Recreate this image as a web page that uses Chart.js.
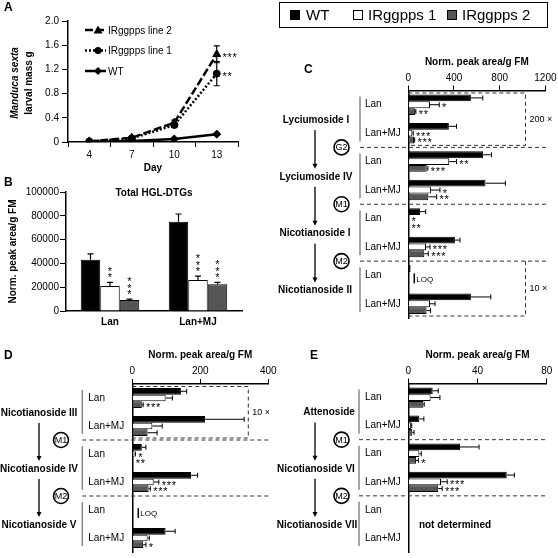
<!DOCTYPE html>
<html>
<head>
<meta charset="utf-8">
<title>IRggpps HGL-DTGs</title>
<script src="https://cdn.jsdelivr.net/npm/chart.js@4.4.1/dist/chart.umd.min.js"></script>
<style>
  html, body { margin: 0; padding: 0; background: #fff; }
  body { position: relative; width: 558px; height: 558px; overflow: hidden; font-family: "Liberation Sans", Arial, sans-serif; }
  canvas { position: absolute; left: 0; top: 0; }
  .panel { position: absolute; font-weight: bold; font-size: 12px; line-height: 12px; }
  #key { position: absolute; left: 279px; top: 2px; width: 267px; height: 24px; border: 1px solid #000; font-size: 15px; }
  #key span { position: absolute; top: 3px; line-height: 18px; }
  #key i { position: absolute; top: 7px; width: 10px; height: 10px; border: 1px solid #000; box-sizing: border-box; }
</style>
</head>
<body>
<canvas id="chartA" width="558" height="558"></canvas>
<canvas id="chartB" width="558" height="558"></canvas>
<canvas id="chartC" width="558" height="558"></canvas>
<canvas id="chartD" width="558" height="558"></canvas>
<canvas id="chartE" width="558" height="558"></canvas>

<div class="panel" style="left:4px;top:1px">A</div>
<div class="panel" style="left:4px;top:176px">B</div>
<div class="panel" style="left:304px;top:63px">C</div>
<div class="panel" style="left:4px;top:349px">D</div>
<div class="panel" style="left:310px;top:349px">E</div>

<div id="key">
  <i style="left:10px;background:#000"></i><span style="left:26px">WT</span>
  <i style="left:73px;background:#fff"></i><span style="left:88px">IRggpps 1</span>
  <i style="left:167px;background:#555"></i><span style="left:182px">IRggpps 2</span>
</div>

<script>
// ---- A: larval mass ----
const days = ['4', '7', '10', '13'];
const massLine2 = [0.01, 0.07, 0.32, 1.45];
const massLine2Err = [0.005, 0.01, 0.04, 0.14];
const massLine1 = [0.01, 0.06, 0.28, 1.13];
const massLine1Err = [0.005, 0.01, 0.04, 0.2];
const massWT = [0.005, 0.015, 0.05, 0.13];
const massWTErr = [0, 0, 0.01, 0.015];
const massStars2 = ['', '', '', '***'];
const massStars1 = ['', '', '', '**'];

// ---- B: total HGL-DTGs ----
const hglCats = ['Lan', 'Lan+MJ'];
const hglWT = [43000, 75000];
const hglWTErr = [5000, 6500];
const hglIR1 = [21000, 26000];
const hglIR1Err = [3000, 3300];
const hglIR2 = [9200, 22500];
const hglIR2Err = [700, 1600];
const hglStars1 = ['**', '***'];
const hglStars2 = ['***', '***'];

// ---- C ----
const cCats = ['Lan', 'Lan+MJ', 'Lan', 'Lan+MJ', 'Lan', 'Lan+MJ', 'Lan', 'Lan+MJ'];
const cCompounds = ['Lyciumoside I', 'Lyciumoside IV', 'Nicotianoside I', 'Nicotianoside II'];
const cSteps = ['G2', 'M1', 'M2'];
const cWT = [548, 355, 655, 676, 102, 408, 20, 548];
const cWTErr = [104, 67, 73, 174, 50, 44, 0, 174];
const cIR1 = [190, 35, 358, 198, 4, 155, null, 190];
const cIR1Err = [81, 8, 64, 79, 0, 35, 0, 44];
const cIR2 = [58, 50, 161, 175, 3, 140, null, 160];
const cIR2Err = [8, 6, 10, 73, 0, 35, 0, 35];
const cStars1 = ['*', '***', '**', '*', '*', '***', '', ''];
const cStars2 = ['**', '***', '***', '**', '**', '***', '', ''];

// ---- D ----
const dCats = ['Lan', 'Lan+MJ', 'Lan', 'Lan+MJ', 'Lan', 'Lan+MJ'];
const dCompounds = ['Nicotianoside III', 'Nicotianoside IV', 'Nicotianoside V'];
const dSteps = ['M1', 'M2'];
const dWT = [143, 214, 28, 173, 2, 98];
const dWTErr = [17, 115, 12, 19, 0, 28];
const dIR1 = [98, 59, 6, 63, null, 45];
const dIR1Err = [20, 29, 3, 15, 0, 5];
const dIR2 = [28, 45, 2, 48, null, 32];
const dIR2Err = [4, 28, 0, 5, 0, 8];
const dStars1 = ['', '', '*', '***', '', ''];
const dStars2 = ['***', '', '**', '***', '', '*'];

// ---- E ----
const eCats = ['Lan', 'Lan+MJ', 'Lan', 'Lan+MJ', 'Lan', 'Lan+MJ'];
const eCompounds = ['Attenoside', 'Nicotianoside VI', 'Nicotianoside VII'];
const eSteps = ['M1', 'M2'];
const eWT = [14.1, 6.4, 29.9, 56.9, null, null];
const eWTErr = [3.2, 2.6, 11, 4.4, 0, 0];
const eIR1 = [12.9, 1.5, 6.4, 18.9, null, null];
const eIR1Err = [5.4, 0.5, 1.1, 3.6, 0, 0];
const eIR2 = [8.7, 2.3, 4.5, 17.3, null, null];
const eIR2Err = [0.5, 1, 1.3, 2.3, 0, 0];
const eStars1 = ['', '', '', '***', '', ''];
const eStars2 = ['', '', '*', '***', '', ''];

const BLACK = '#000';
const GRAY = '#555';
const FONT = '"Liberation Sans", Arial, sans-serif';

Chart.defaults.font.family = FONT;
Chart.defaults.font.size = 10;
Chart.defaults.color = BLACK;
Chart.defaults.animation = false;
Chart.defaults.events = [];
Chart.defaults.plugins.legend.display = false;
Chart.defaults.plugins.tooltip.enabled = false;

// plain numbers, no thousands separator
const plain = v => String(v);

// stars drawn one by one so they sit a bit apart
function drawStars(ctx, s, x, y, vertical) {
  ctx.font = '11px ' + FONT;
  ctx.textAlign = 'center';
  ctx.textBaseline = 'alphabetic';
  for (let k = 0; k < s.length; k++) {
    if (vertical) ctx.fillText('*', x, y - k * 6.5 + 6);
    else ctx.fillText('*', x + 2 + k * 5, y + 6.5);
  }
}

function drawMarker(ctx, style, x, y, r) {
  ctx.beginPath();
  if (style === 'triangle') {
    ctx.moveTo(x, y - r); ctx.lineTo(x + r, y + r * 0.8); ctx.lineTo(x - r, y + r * 0.8);
  } else if (style === 'rectRot') {
    ctx.moveTo(x, y - r); ctx.lineTo(x + r, y); ctx.lineTo(x, y + r); ctx.lineTo(x - r, y);
  } else {
    ctx.arc(x, y, r, 0, Math.PI * 2);
  }
  ctx.closePath();
  ctx.fill();
}

// ---------------- A ----------------
const massPlugin = {
  id: 'massExtras',
  afterDatasetsDraw(chart) {
    const {ctx, scales: {x, y}} = chart;
    const errs = [massLine2Err, massLine1Err, massWTErr];
    const stars = [massStars2, massStars1, []];
    ctx.save();
    ctx.strokeStyle = BLACK;
    ctx.fillStyle = BLACK;
    ctx.lineWidth = 1.2;
    chart.data.datasets.forEach((ds, i) => {
      ds.data.forEach((v, j) => {
        const px = x.getPixelForValue(j);
        const e = errs[i][j];
        if (e) {
          const top = y.getPixelForValue(v + e), bot = y.getPixelForValue(v - e);
          ctx.beginPath();
          ctx.moveTo(px, top); ctx.lineTo(px, bot);
          ctx.moveTo(px - 3, top); ctx.lineTo(px + 3, top);
          ctx.moveTo(px - 3, bot); ctx.lineTo(px + 3, bot);
          ctx.stroke();
        }
        if (stars[i][j]) drawStars(ctx, stars[i][j], px + 6, y.getPixelForValue(v), false);
      });
    });

    // legend inside the plot
    const rows = [30, 50.5, 71];
    chart.data.datasets.forEach((ds, i) => {
      const yy = rows[i];
      ctx.lineWidth = 2.5;
      ctx.setLineDash(ds.borderDash || []);
      ctx.beginPath(); ctx.moveTo(85, yy); ctx.lineTo(106, yy); ctx.stroke();
      ctx.setLineDash([]);
      drawMarker(ctx, ds.pointStyle, 98, yy, ds.pointRadius);
      ctx.font = '10px ' + FONT;
      ctx.textAlign = 'left';
      ctx.textBaseline = 'middle';
      ctx.fillText(ds.label, 108, yy + 1);
    });

    // y title, first line italic
    ctx.save();
    ctx.translate(15, 83);
    ctx.rotate(-Math.PI / 2);
    ctx.textAlign = 'center';
    ctx.textBaseline = 'middle';
    ctx.font = 'italic bold 10px ' + FONT;
    ctx.fillText('Manduca sexta', 0, 0);
    ctx.font = 'bold 10px ' + FONT;
    ctx.fillText('larval mass g', 0, 14);
    ctx.restore();
    ctx.restore();
  }
};

new Chart(document.getElementById('chartA'), {
  type: 'line',
  data: {
    labels: days,
    datasets: [
      {label: 'IRggpps line 2', data: massLine2, borderDash: [8, 3], pointStyle: 'triangle', pointRadius: 4.5},
      {label: 'IRggpps line 1', data: massLine1, borderDash: [2, 2], pointStyle: 'circle', pointRadius: 3.5},
      {label: 'WT', data: massWT, pointStyle: 'rectRot', pointRadius: 4}
    ].map(ds => Object.assign(ds, {
      borderColor: BLACK, backgroundColor: BLACK, borderWidth: 2.5,
      pointBackgroundColor: BLACK, pointBorderColor: BLACK, pointBorderWidth: 1
    }))
  },
  options: {
    responsive: false,
    layout: {padding: {left: 0, top: 21, right: 320, bottom: 382}},
    scales: {
      x: {
        offset: true,
        grid: {display: true, offset: true, drawOnChartArea: false, tickLength: 5, color: BLACK},
        border: {color: BLACK, width: 1.5},
        ticks: {padding: 2},
        title: {display: true, text: 'Day', font: {weight: 'bold'}, padding: {top: 0, bottom: 2}},
        afterFit: s => { s.height = 34; }
      },
      y: {
        min: 0, max: 2,
        ticks: {stepSize: 0.4, padding: 3, callback: v => v === 0 ? '0' : v.toFixed(1)},
        grid: {drawOnChartArea: false, tickLength: 6, color: BLACK},
        border: {color: BLACK, width: 1.5},
        afterFit: s => { s.width = 68; }
      }
    }
  },
  plugins: [massPlugin]
});

// ---------------- B ----------------
const hglPlugin = {
  id: 'hglExtras',
  afterDatasetsDraw(chart) {
    const {ctx, scales: {y}, chartArea} = chart;
    const errs = [hglWTErr, hglIR1Err, hglIR2Err];
    const stars = [[], hglStars1, hglStars2];
    ctx.save();
    ctx.strokeStyle = BLACK;
    ctx.fillStyle = BLACK;
    ctx.lineWidth = 1.2;
    chart.data.datasets.forEach((ds, i) => {
      chart.getDatasetMeta(i).data.forEach((bar, j) => {
        const top = y.getPixelForValue(ds.data[j] + errs[i][j]);
        ctx.beginPath();
        ctx.moveTo(bar.x, bar.y); ctx.lineTo(bar.x, top);
        ctx.moveTo(bar.x - 3, top); ctx.lineTo(bar.x + 3, top);
        ctx.stroke();
        if (stars[i][j]) drawStars(ctx, stars[i][j], bar.x, top - 7, true);
      });
    });
    ctx.font = 'bold 10px ' + FONT;
    ctx.textAlign = 'center';
    ctx.textBaseline = 'middle';
    ctx.fillText('Total HGL-DTGs', (chartArea.left + chartArea.right) / 2, 193);
    ctx.restore();
  }
};

new Chart(document.getElementById('chartB'), {
  type: 'bar',
  data: {
    labels: hglCats,
    datasets: [
      {label: 'WT', data: hglWT, backgroundColor: BLACK},
      {label: 'IRggpps 1', data: hglIR1, backgroundColor: '#fff'},
      {label: 'IRggpps 2', data: hglIR2, backgroundColor: GRAY}
    ]
  },
  options: {
    responsive: false,
    datasets: {bar: {borderColor: BLACK, borderWidth: 1, categoryPercentage: 0.665, barPercentage: 1}},
    layout: {padding: {left: 0, top: 192, right: 316, bottom: 227}},
    scales: {
      x: {
        grid: {display: true, drawOnChartArea: false, drawTicks: false},
        border: {color: BLACK, width: 1.5},
        ticks: {padding: 5, font: {weight: 'bold'}},
        afterFit: s => { s.height = 20; }
      },
      y: {
        min: 0, max: 100000,
        ticks: {stepSize: 20000, padding: 1, callback: plain},
        grid: {drawOnChartArea: false, tickLength: 6, color: BLACK},
        border: {color: BLACK, width: 1.5},
        title: {display: true, text: 'Norm. peak area/g FM', font: {weight: 'bold'}, padding: {top: 7, bottom: 0}},
        afterFit: s => { s.width = 66; }
      }
    }
  },
  plugins: [hglPlugin]
});

// ---------------- C, D, E ----------------
function stepsPlugin(p) {
  return {
    id: 'steps' + p.id,
    afterDatasetsDraw(chart) {
      const {ctx, scales: {x, y}, chartArea} = chart;
      const band = (y.getPixelForValue(1) - y.getPixelForValue(0));
      const edge = k => y.getPixelForValue(k) - band / 2;
      ctx.save();
      ctx.fillStyle = BLACK;
      ctx.strokeStyle = BLACK;

      // error bars + stars
      ctx.lineWidth = 1;
      chart.data.datasets.forEach((ds, i) => {
        chart.getDatasetMeta(i).data.forEach((bar, j) => {
          const v = ds.data[j];
          if (v == null) return;
          const e = ds.err[j] || 0;
          const end = x.getPixelForValue(v + e);
          if (e) {
            ctx.beginPath();
            ctx.moveTo(bar.x, bar.y); ctx.lineTo(end, bar.y);
            ctx.moveTo(end, bar.y - 2.5); ctx.lineTo(end, bar.y + 2.5);
            ctx.stroke();
          }
          const s = ds.stars ? ds.stars[j] : '';
          if (s) drawStars(ctx, s, end + 3, bar.y, false);
        });
      });

      // dashed separators between compounds
      ctx.setLineDash([4, 3]);
      ctx.strokeStyle = '#333';
      p.steps.forEach((st, k) => {
        const sy = edge(2 * k + 2);
        ctx.beginPath(); ctx.moveTo(p.bracketX, sy); ctx.lineTo(p.sepRight, sy); ctx.stroke();
      });

      // dashed scale boxes
      (p.boxes || []).forEach(b => {
        const top = b.top ? edge(b.from) + 2.5 : edge(b.from);
        const bot = edge(b.to + 1) - 2;
        ctx.beginPath();
        if (b.top) { ctx.moveTo(chartArea.left, top); ctx.lineTo(b.right, top); }
        else ctx.moveTo(b.right, top);
        ctx.lineTo(b.right, bot);
        ctx.lineTo(chartArea.left, bot);
        ctx.stroke();
        ctx.font = '9px ' + FONT;
        ctx.textAlign = 'left';
        ctx.textBaseline = 'middle';
        ctx.fillText(b.text, b.right + 4, (top + bot) / 2);
      });
      ctx.setLineDash([]);

      // grey brackets
      ctx.strokeStyle = '#888';
      ctx.lineWidth = 1.5;
      p.compounds.forEach((c, k) => {
        ctx.beginPath();
        ctx.moveTo(p.bracketX, edge(2 * k) + 6);
        ctx.lineTo(p.bracketX, edge(2 * k + 2) - 6);
        ctx.stroke();
      });

      // compound names and arrows
      const nameY = p.compounds.map((c, k) => edge(2 * k + 1) + 1);
      ctx.font = 'bold 10px ' + FONT;
      ctx.textAlign = 'center';
      ctx.textBaseline = 'middle';
      p.compounds.forEach((c, k) => ctx.fillText(c, p.nameX[k], nameY[k]));
      ctx.strokeStyle = BLACK;
      ctx.lineWidth = 1.3;
      for (let k = 0; k < p.compounds.length - 1; k++) {
        const y1 = nameY[k] + 10, y2 = nameY[k + 1] - 8;
        ctx.beginPath(); ctx.moveTo(p.arrowX, y1); ctx.lineTo(p.arrowX, y2 - 4); ctx.stroke();
        ctx.beginPath();
        ctx.moveTo(p.arrowX - 2.5, y2 - 5); ctx.lineTo(p.arrowX + 2.5, y2 - 5); ctx.lineTo(p.arrowX, y2);
        ctx.closePath(); ctx.fill();
      }

      // circled step names
      ctx.lineWidth = 1.6;
      p.steps.forEach((st, k) => {
        const cy = edge(2 * k + 2);
        ctx.beginPath();
        ctx.arc(p.circleX, cy, 7.5, 0, Math.PI * 2);
        ctx.fillStyle = '#fff'; ctx.fill();
        ctx.stroke();
        ctx.fillStyle = BLACK;
        ctx.font = '9px ' + FONT;
        ctx.fillText(st, p.circleX, cy + 0.5);
      });

      // below limit of quantification
      (p.loq || []).forEach(cat => {
        const lx = x.getPixelForValue(0) + 6;
        const ly = y.getPixelForValue(cat) + 3;
        ctx.lineWidth = 1.5;
        ctx.beginPath(); ctx.moveTo(lx, ly - 5); ctx.lineTo(lx, ly + 5); ctx.stroke();
        ctx.font = '8px ' + FONT;
        ctx.textAlign = 'left';
        ctx.fillText('LOQ', lx + 2, ly + 1);
      });

      (p.notes || []).forEach(n => {
        ctx.font = 'bold 10px ' + FONT;
        ctx.textAlign = 'center';
        ctx.fillText(n.text, n.x, nameY[n.compound]);
      });
      ctx.restore();
    }
  };
}

function stepChart(id, p) {
  return new Chart(document.getElementById(id), {
    type: 'bar',
    data: {
      labels: p.cats,
      datasets: [
        {label: 'WT', data: p.wt, err: p.wtErr, backgroundColor: BLACK},
        {label: 'IRggpps 1', data: p.ir1, err: p.ir1Err, stars: p.stars1, backgroundColor: '#fff'},
        {label: 'IRggpps 2', data: p.ir2, err: p.ir2Err, stars: p.stars2, backgroundColor: GRAY}
      ]
    },
    options: {
      responsive: false,
      indexAxis: 'y',
      datasets: {bar: {borderColor: BLACK, borderWidth: 1, categoryPercentage: 0.72, barPercentage: 1}},
      layout: {padding: {left: p.labelX, top: p.titleTop, right: 558 - p.area.right, bottom: 558 - p.area.bottom}},
      scales: {
        x: {
          position: 'top', min: 0, max: p.max,
          ticks: {stepSize: p.step, padding: 1.5, callback: plain},
          grid: {drawOnChartArea: false, tickLength: 5, color: BLACK},
          border: {color: BLACK, width: 1.5},
          title: {display: true, text: 'Norm. peak area/g FM', font: {weight: 'bold'}, padding: {top: 6, bottom: 0}},
          afterFit: s => { s.height = p.area.top - p.titleTop; }
        },
        y: {
          grid: {drawOnChartArea: false, drawTicks: false},
          border: {color: BLACK, width: 1.5},
          ticks: {crossAlign: 'far', padding: 0, autoSkip: false},
          afterFit: s => { s.width = p.area.left - p.labelX; }
        }
      }
    },
    plugins: [stepsPlugin(Object.assign({id}, p))]
  });
}

stepChart('chartC', {
  cats: cCats, compounds: cCompounds, steps: cSteps,
  wt: cWT, wtErr: cWTErr, ir1: cIR1, ir1Err: cIR1Err, ir2: cIR2, ir2Err: cIR2Err,
  stars1: cStars1, stars2: cStars2,
  max: 1200, step: 400,
  area: {left: 408.3, top: 90.5, right: 545.7, bottom: 318},
  titleTop: 50, labelX: 365, bracketX: 360, arrowX: 315, circleX: 341.5, sepRight: 548,
  nameX: [316, 316, 315, 315],
  boxes: [{from: 0, to: 1, right: 525.5, top: true, text: '200 ×'}, {from: 6, to: 7, right: 525.5, top: false, text: '10 ×'}],
  loq: [6]
});

stepChart('chartD', {
  cats: dCats, compounds: dCompounds, steps: dSteps,
  wt: dWT, wtErr: dWTErr, ir1: dIR1, ir1Err: dIR1Err, ir2: dIR2, ir2Err: dIR2Err,
  stars1: dStars1, stars2: dStars2,
  max: 400, step: 200,
  area: {left: 132.3, top: 384, right: 268.3, bottom: 557.5},
  titleTop: 343, labelX: 88.3, bracketX: 82.3, arrowX: 39, circleX: 61, sepRight: 270,
  nameX: [39, 39, 39],
  boxes: [{from: 0, to: 1, right: 248.3, top: true, text: '10 ×'}],
  loq: [4]
});

stepChart('chartE', {
  cats: eCats, compounds: eCompounds, steps: eSteps,
  wt: eWT, wtErr: eWTErr, ir1: eIR1, ir1Err: eIR1Err, ir2: eIR2, ir2Err: eIR2Err,
  stars1: eStars1, stars2: eStars2,
  max: 80, step: 40,
  area: {left: 408.3, top: 383.5, right: 546.7, bottom: 557},
  titleTop: 343, labelX: 365, bracketX: 359, arrowX: 315, circleX: 341.5, sepRight: 546,
  nameX: [329, 316, 317],
  notes: [{text: 'not determined', x: 455, compound: 2}]
});
</script>
</body>
</html>
